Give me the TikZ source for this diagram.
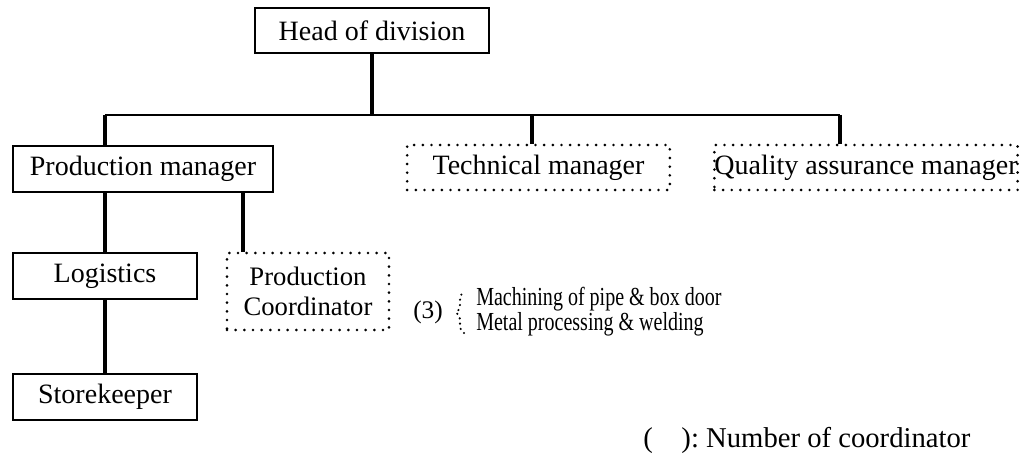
\documentclass[tikz,border=0pt]{standalone}
\usepackage{fontspec}
\setmainfont{Liberation Serif}
\newfontfamily\condserif[FakeStretch=0.77]{Liberation Serif}
\usetikzlibrary{decorations.pathreplacing}
\begin{document}
\begin{tikzpicture}[x=0.75pt,y=-0.75pt,
  solidbox/.style={draw=black,line width=1.4pt,inner sep=0pt,align=center,
    font=\fontsize{21}{24}\selectfont},
  dotbox/.style={draw=black,line width=2.2pt,line cap=round,
    dash pattern=on 0pt off 6.5pt,inner sep=0pt,align=center,
    font=\fontsize{21}{24}\selectfont},
  conn/.style={line width=2.4pt},
  busline/.style={line width=1.6pt},
  note/.style={inner sep=0pt,anchor=west,font=\condserif\fontsize{19.5}{22}\selectfont},
  legendtext/.style={inner sep=0pt,anchor=west,font=\fontsize{21.5}{24}\selectfont}]
\useasboundingbox (0,0) rectangle (1021,466);
% boxes
\node[solidbox,minimum width=175pt,minimum height=33.75pt] (head) at (372,30.5) {Head of division};
\node[solidbox,minimum width=195pt,minimum height=34.5pt] (pm) at (143,169) {Production manager};
\node[dotbox,minimum width=197pt,minimum height=33.75pt] (tech) at (538.5,167.5) {Technical manager};
\node[dotbox,minimum width=226.5pt,minimum height=33.75pt] (qa) at (866,167.5) {Quality assurance manager};
\node[solidbox,minimum width=138pt,minimum height=34.5pt] (log) at (105,276) {Logistics};
\node[dotbox,minimum width=121.5pt,minimum height=57.75pt,
  font=\fontsize{20}{23}\selectfont] (coord) at (308,291.5) {Production\\Coordinator};
\node[solidbox,minimum width=138pt,minimum height=34.5pt] (store) at (105,397) {Storekeeper};
% bus coordinates
\coordinate (busL) at (105,115);
\coordinate (busR) at (840,115);
\coordinate (tj) at (532,115);
\coordinate (cj) at (243,200);
% connectors
\draw[busline] (busL) -- (busR);
\draw[conn] (head.south) -- (head.south |- busL);
\draw[conn] (busL) -- (busL |- pm.north);
\draw[conn] (tj) -- (tj |- tech.north);
\draw[conn] (busR) -- (busR |- qa.north);
\draw[conn] (log.north |- pm.south) -- (log.north);
\draw[conn] (cj |- pm.south) -- (cj |- coord.north);
\draw[conn] (log.south) -- (store.north);
% annotation
\node[inner sep=0pt,anchor=west,font=\fontsize{19}{22}\selectfont] (three) at (413,312) {(3)};
\coordinate (brb) at (464,333);
\coordinate (brt) at (464,292);
\draw[line width=1.8pt,line cap=round,dash pattern=on 0pt off 4pt,
  decorate,decoration={brace,amplitude=6pt}] (brb) -- (brt);
\node[note] (mach) at (476,299) {Machining of pipe \& box door};
\node[note] (metal) at (476,324) {Metal processing \& welding};
\node[legendtext] (legend) at (643,440) {(\hspace{1em}):\ Number of coordinator};
\end{tikzpicture}
\end{document}
